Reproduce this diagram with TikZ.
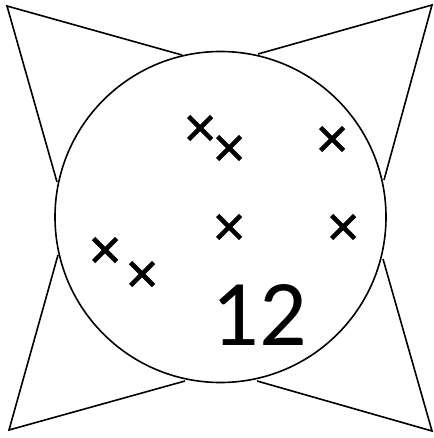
\documentclass[tikz,border=0pt]{standalone}
\usepackage{fontspec}
\setmainfont{Carlito}
\begin{document}
\begin{tikzpicture}[x=1pt,y=-1pt,
  shape line/.style={draw=black,line width=1.6pt,line join=miter},
  crossmark/.style={line width=4.6pt,line cap=butt}]
\useasboundingbox (0,0) rectangle (433,438);
% triangles
\coordinate (tl) at (7,6);   \coordinate (tla) at (182,55);  \coordinate (tlb) at (57,182);
\coordinate (tr) at (432,5); \coordinate (tra) at (258,54);  \coordinate (trb) at (384,180);
\coordinate (bl) at (9,430); \coordinate (bla) at (58,255);  \coordinate (blb) at (185,381);
\coordinate (br) at (432,431); \coordinate (bra) at (383,259); \coordinate (brb) at (257,381);
\draw[shape line] (tla) -- (tl) -- (tlb);
\draw[shape line] (tra) -- (tr) -- (trb);
\draw[shape line] (bla) -- (bl) -- (blb);
\draw[shape line] (bra) -- (br) -- (brb);
% circle
\node[shape line,circle,minimum size=331pt,inner sep=0pt] (disc) at (220.5,217) {};
% crosses
\foreach \n/\px/\py in {c1/200/128,c2/229/148,c3/332/139,c4/229/227,c5/343/227,c6/105/250,c7/142/274}{
  \coordinate (\n) at (\px,\py);
  \draw[crossmark] ([shift={(-11.5,-11.5)}]\n) -- ([shift={(11.5,11.5)}]\n);
  \draw[crossmark] ([shift={(-11.5,11.5)}]\n) -- ([shift={(11.5,-11.5)}]\n);
}
\node[anchor=base,inner sep=0pt,font=\fontsize{94}{94}\selectfont] (num) at (259,345) {12};
\end{tikzpicture}
\end{document}
